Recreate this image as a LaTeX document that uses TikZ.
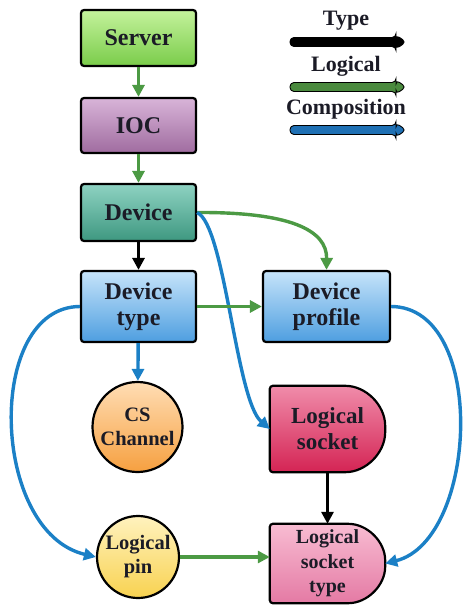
\documentclass[tikz,border=0pt]{standalone}
\usepackage{fontspec}
\setmainfont{Liberation Serif}
\usetikzlibrary{arrows.meta, calc, backgrounds}
\definecolor{ink}{HTML}{1B1B26}
\definecolor{logicgreen}{HTML}{4C9A44}
\definecolor{compblue}{HTML}{1B80C6}
\definecolor{keygreen}{HTML}{4A8A3E}
\definecolor{keyblue}{HTML}{1F70B4}
\definecolor{servertop}{HTML}{C4F29C}
\definecolor{serverbot}{HTML}{7ACC4A}
\definecolor{ioctop}{HTML}{D8B4D8}
\definecolor{iocbot}{HTML}{A06CA0}
\definecolor{devtop}{HTML}{8ED2C2}
\definecolor{devbot}{HTML}{3E9880}
\definecolor{typetop}{HTML}{C6E4FA}
\definecolor{typebot}{HTML}{4E9EE0}
\definecolor{chantop}{HTML}{FFDDB4}
\definecolor{chanbot}{HTML}{F6A040}
\definecolor{pintop}{HTML}{FFF2BE}
\definecolor{pinbot}{HTML}{F8D250}
\definecolor{socktop}{HTML}{F08CAA}
\definecolor{sockbot}{HTML}{D42454}
\definecolor{stypetop}{HTML}{F8BCD2}
\definecolor{stypebot}{HTML}{E47AA4}

% D-shaped outline round a socket node: #1 node, #2/#3 colours, #4 radius
\newcommand{\socketshape}[4]{%
  \shadedraw[top color=#2, bottom color=#3, draw=black, line width=2.2pt, rounded corners=3pt]
    (#1.west) -- (#1.north west) -- ($(#1.north east)+(-#4,0)$)
    .. controls ($(#1.north east)+(-0.448*#4,0)$) and ($(#1.north east)!0.448!(#1.east)$) .. (#1.east)
    .. controls ($(#1.south east)!0.448!(#1.east)$) and ($(#1.south east)+(-0.448*#4,0)$) .. ($(#1.south east)+(-#4,0)$)
    -- (#1.south west) -- cycle;
}

\tikzset{
  box/.style={draw=black, line width=2.2pt, rounded corners=3pt, align=center, text=ink,
    inner sep=0pt, minimum width=115pt, font=\fontsize{24}{26}\selectfont\bfseries},
  ball/.style={circle, draw=black, line width=2.2pt, align=center, text=ink, inner sep=0pt,
    font=\fontsize{20.5}{24}\selectfont\bfseries},
  sock/.style={align=center, text=ink, inner sep=0pt, minimum width=115pt},
  keytext/.style={text=ink, font=\fontsize{22}{24}\selectfont\bfseries},
  conn/.style={line width=3.4pt, -{Triangle[length=12pt,width=12pt]}},
  typeln/.style={conn, black},
  logicln/.style={conn, logicgreen},
  compln/.style={conn, compblue},
}

\begin{document}
\begin{tikzpicture}[x=1pt, y=-1pt]
\useasboundingbox (0,0) rectangle (466,605);

% Nodes
\node[box, minimum height=56pt, top color=servertop, bottom color=serverbot] (server) at (138.5,38) {Server};
\node[box, minimum height=55pt, top color=ioctop, bottom color=iocbot] (ioc) at (138.5,125.5) {IOC};
\node[box, minimum height=57pt, top color=devtop, bottom color=devbot] (device) at (138.5,212.5) {Device};
\node[box, minimum height=71pt, top color=typetop, bottom color=typebot] (devtype) at (138.5,306.5) {Device\\type};
\node[box, minimum height=71pt, minimum width=127pt, top color=typetop, bottom color=typebot] (profile) at (326.5,306.5) {Device\\profile};
\node[ball, minimum size=90pt, top color=chantop, bottom color=chanbot] (channel) at (137.5,427) {CS\\Channel};
\node[ball, minimum size=82pt, top color=pintop, bottom color=pinbot] (pin) at (138,557) {Logical\\pin};
\node[sock, minimum height=86pt, font=\fontsize{23}{26}\selectfont\bfseries] (socket) at (327.5,429) {Logical\\socket};
\node[sock, minimum height=79pt, font=\fontsize{20}{24.5}\selectfont\bfseries] (stype) at (327.5,563.5) {Logical\\socket\\type};

\begin{scope}[on background layer]
  \socketshape{socket}{socktop}{sockbot}{43}
  \socketshape{stype}{stypetop}{stypebot}{40}
\end{scope}

% Connectors
\draw[logicln] (server) -- (ioc);
\draw[logicln] (ioc) -- (device);
\draw[typeln] (device) -- (devtype);
\draw[logicln] (device.east) .. controls (290,212) and (327,230) .. (profile.north);
\draw[compln] (device.east) .. controls (225,225) and (236,400) .. (socket.west);
\draw[logicln] (devtype) -- (profile);
\draw[compln] (devtype) -- (channel);
\draw[compln] (devtype.west) .. controls (-15,307) and (-10,532) .. (pin.west);
\draw[logicln] (pin.east) -- (pin.east -| stype.west);
\draw[typeln] (socket) -- (stype);
\draw[compln] (profile.east) .. controls (488,307) and (478,540) .. (stype.east);

% Legend
\foreach \y/\col/\lab [count=\i] in {42/black/Type, 87/keygreen/Logical, 130/keyblue/Composition} {
  \node[keytext] (key\i) at (346,\y-21) {\lab};
  \filldraw[fill=\col, draw=black, line width=0.9pt, rounded corners=4pt]
    (290,\y-4.5) -- (396,\y-4.5) -- (396,\y-7) -- (406,\y) -- (396,\y+7) -- (396,\y+4.5) -- (290,\y+4.5) -- cycle;
}

\end{tikzpicture}
\end{document}
